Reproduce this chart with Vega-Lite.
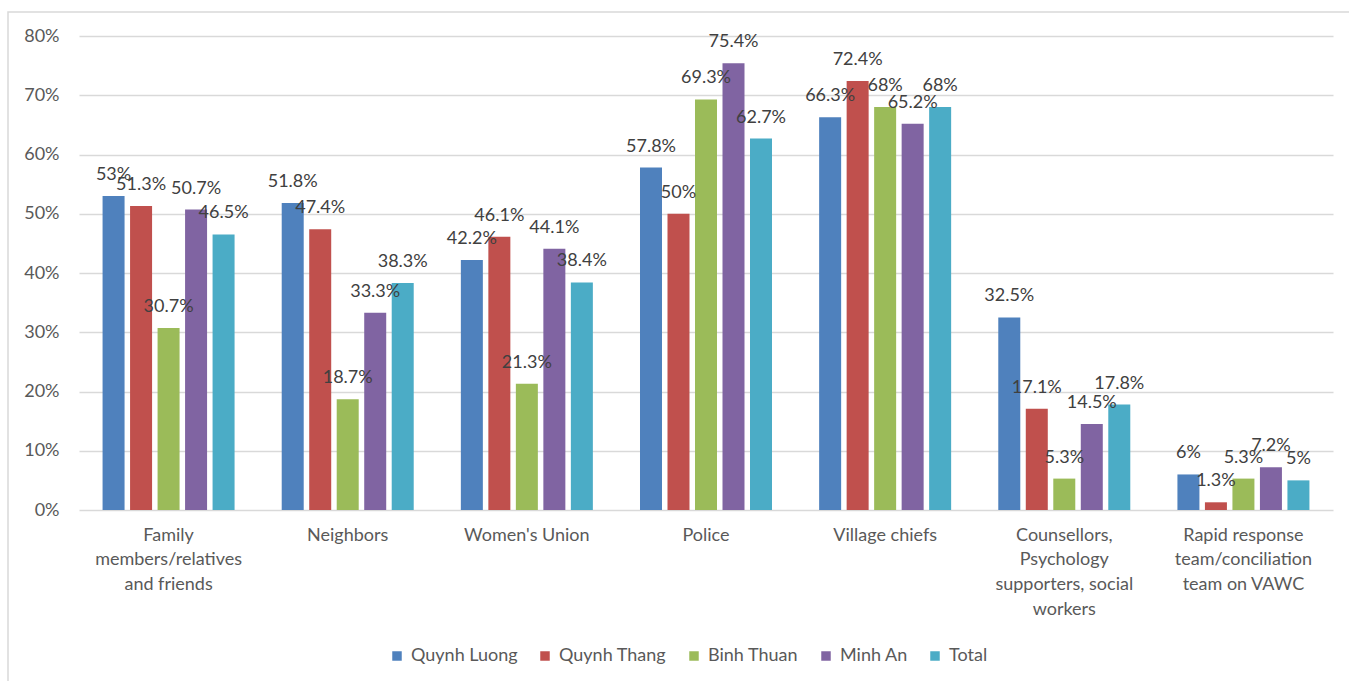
{
  "$schema": "https://vega.github.io/schema/vega-lite/v6.json",
  "width": 1344,
  "height": 672,
  "autosize": "none",
  "padding": {"left": 8, "top": 12, "right": -3, "bottom": -3},
  "background": "white",
  "config": {
    "font": "Lato",
    "view": {"stroke": "#d9d9d9", "strokeWidth": 1.5}
  },
  "data": {
    "values": [
      {"source": "Family members/relatives and friends", "commune": "Quynh Luong", "value": 0.53},
      {"source": "Family members/relatives and friends", "commune": "Quynh Thang", "value": 0.513},
      {"source": "Family members/relatives and friends", "commune": "Binh Thuan", "value": 0.307},
      {"source": "Family members/relatives and friends", "commune": "Minh An", "value": 0.507},
      {"source": "Family members/relatives and friends", "commune": "Total", "value": 0.465},
      {"source": "Neighbors", "commune": "Quynh Luong", "value": 0.518},
      {"source": "Neighbors", "commune": "Quynh Thang", "value": 0.474},
      {"source": "Neighbors", "commune": "Binh Thuan", "value": 0.187},
      {"source": "Neighbors", "commune": "Minh An", "value": 0.333},
      {"source": "Neighbors", "commune": "Total", "value": 0.383},
      {"source": "Women's Union", "commune": "Quynh Luong", "value": 0.422},
      {"source": "Women's Union", "commune": "Quynh Thang", "value": 0.461},
      {"source": "Women's Union", "commune": "Binh Thuan", "value": 0.213},
      {"source": "Women's Union", "commune": "Minh An", "value": 0.441},
      {"source": "Women's Union", "commune": "Total", "value": 0.384},
      {"source": "Police", "commune": "Quynh Luong", "value": 0.578},
      {"source": "Police", "commune": "Quynh Thang", "value": 0.5},
      {"source": "Police", "commune": "Binh Thuan", "value": 0.693},
      {"source": "Police", "commune": "Minh An", "value": 0.754},
      {"source": "Police", "commune": "Total", "value": 0.627},
      {"source": "Village chiefs", "commune": "Quynh Luong", "value": 0.663},
      {"source": "Village chiefs", "commune": "Quynh Thang", "value": 0.724},
      {"source": "Village chiefs", "commune": "Binh Thuan", "value": 0.68},
      {"source": "Village chiefs", "commune": "Minh An", "value": 0.652},
      {"source": "Village chiefs", "commune": "Total", "value": 0.68},
      {"source": "Counsellors, Psychology supporters, social workers", "commune": "Quynh Luong", "value": 0.325},
      {"source": "Counsellors, Psychology supporters, social workers", "commune": "Quynh Thang", "value": 0.171},
      {"source": "Counsellors, Psychology supporters, social workers", "commune": "Binh Thuan", "value": 0.053},
      {"source": "Counsellors, Psychology supporters, social workers", "commune": "Minh An", "value": 0.145},
      {"source": "Counsellors, Psychology supporters, social workers", "commune": "Total", "value": 0.178},
      {"source": "Rapid response team/conciliation team on VAWC", "commune": "Quynh Luong", "value": 0.06},
      {"source": "Rapid response team/conciliation team on VAWC", "commune": "Quynh Thang", "value": 0.013},
      {"source": "Rapid response team/conciliation team on VAWC", "commune": "Binh Thuan", "value": 0.053},
      {"source": "Rapid response team/conciliation team on VAWC", "commune": "Minh An", "value": 0.072},
      {"source": "Rapid response team/conciliation team on VAWC", "commune": "Total", "value": 0.05}
    ]
  },
  "encoding": {
    "x": {
      "field": "source",
      "type": "nominal",
      "sort": null,
      "scale": {"range": [71, 1325], "paddingInner": 0, "paddingOuter": 0},
      "axis": {
        "title": null,
        "orient": "bottom",
        "offset": -174,
        "domain": false,
        "ticks": false,
        "grid": false,
        "labelAngle": 0,
        "labelFontSize": 18,
        "labelColor": "#595959",
        "labelLineHeight": 24.7,
        "labelPadding": 16,
        "labelLimit": 400,
        "labelExpr": "datum.value == 'Family members/relatives and friends' ? ['Family', 'members/relatives', 'and friends'] : datum.value == 'Counsellors, Psychology supporters, social workers' ? ['Counsellors,', 'Psychology', 'supporters, social', 'workers'] : datum.value == 'Rapid response team/conciliation team on VAWC' ? ['Rapid response', 'team/conciliation', 'team on VAWC'] : datum.value"
      }
    },
    "xOffset": {
      "field": "commune",
      "type": "nominal",
      "sort": ["Quynh Luong", "Quynh Thang", "Binh Thuan", "Minh An", "Total"],
      "scale": {"paddingInner": 0.2, "paddingOuter": 0.857}
    },
    "y": {
      "field": "value",
      "type": "quantitative",
      "scale": {"domain": [0, 0.8], "range": [498, 24], "nice": false},
      "axis": {
        "title": null,
        "format": ".0%",
        "values": [0, 0.1, 0.2, 0.3, 0.4, 0.5, 0.6, 0.7, 0.8],
        "offset": -71,
        "domain": false,
        "ticks": false,
        "labelPadding": 20,
        "labelFontSize": 18,
        "labelColor": "#595959",
        "grid": true,
        "gridColor": "#d9d9d9",
        "gridWidth": 1.5
      }
    }
  },
  "layer": [
    {
      "mark": {"type": "bar"},
      "encoding": {
        "color": {
          "field": "commune",
          "type": "nominal",
          "scale": {
            "domain": ["Quynh Luong", "Quynh Thang", "Binh Thuan", "Minh An", "Total"],
            "range": ["#4f81bd", "#c0504d", "#9bbb59", "#8064a2", "#4bacc6"]
          },
          "legend": {
            "title": null,
            "orient": "none",
            "direction": "horizontal",
            "legendX": 380,
            "legendY": 635,
            "symbolType": "square",
            "symbolSize": 90,
            "symbolStrokeWidth": 0,
            "labelFontSize": 18,
            "labelColor": "#595959",
            "labelOffset": 5,
            "columnPadding": 18
          }
        }
      }
    },
    {
      "mark": {"type": "text", "dy": -21, "baseline": "middle", "fontSize": 18, "color": "#404040"},
      "encoding": {
        "text": {"field": "value", "type": "quantitative", "format": ".1~%"}
      }
    }
  ]
}
